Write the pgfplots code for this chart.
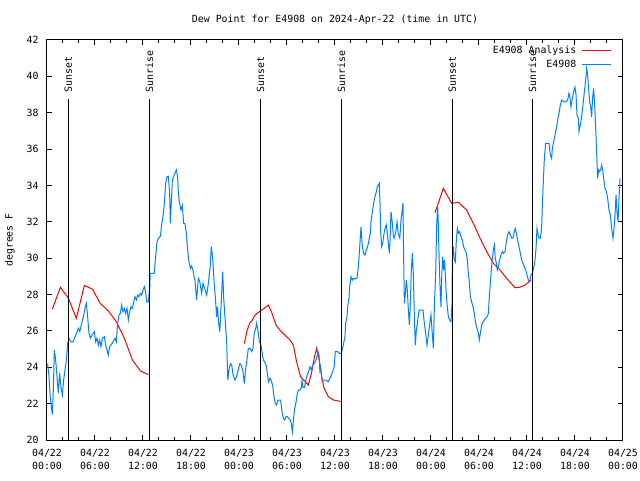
\documentclass[border=0pt]{standalone}
\usepackage{fontspec}
\setmainfont{DejaVu Sans Mono}
\usepackage{pgfplots}
\pgfplotsset{compat=1.18}
\definecolor{dpred}{RGB}{255,0,0}
\definecolor{dpblue}{RGB}{0,128,255}
\newcommand{\gf}{\fontsize{9.9}{13}\selectfont}
\begin{document}
\begin{tikzpicture}[font=\gf]
\path[use as bounding box] (-47pt,-40pt) rectangle (593pt,440pt);
\begin{axis}[
  at={(0pt,0pt)}, anchor=south west,
  width=576pt, height=400pt, scale only axis,
  xmin=0, xmax=72, ymin=20, ymax=42,
  xtick={0,6,...,72},
  minor x tick num=2,
  xticklabels={{04/22\\00:00},{04/22\\06:00},{04/22\\12:00},{04/22\\18:00},{04/23\\00:00},{04/23\\06:00},{04/23\\12:00},{04/23\\18:00},{04/24\\00:00},{04/24\\06:00},{04/24\\12:00},{04/24\\18:00},{04/25\\00:00}},
  xticklabel style={align=center, font=\gf, yshift=-6pt},
  ytick={20,22,...,42},
  yticklabel style={font=\gf, xshift=-5pt},
  /pgf/number format/assume math mode=true,
  tick align=inside,
  major tick length=5pt, minor tick length=3pt,
  every tick/.style={black, line width=1pt},
  axis line style={line width=1pt},
  title={Dew Point for E4908 on 2024-Apr-22 (time in UTC)},
  title style={at={(axis description cs:0.5,1)}, anchor=center, yshift=14pt, font=\gf},
  ylabel={degrees F},
  ylabel style={at={(axis description cs:0,0.5)}, anchor=center, yshift=37pt, font=\gf},
  unbounded coords=jump,
  legend style={draw=none, fill=none, at={(axis description cs:1,1)}, anchor=north east, xshift=-11pt, yshift=-4pt, font=\gf, row sep=2pt, column sep=4pt, inner sep=0pt, nodes={inner sep=1.5pt}},
  legend cell align=right,
  legend plot pos=right,
  legend image code/.code={\draw[#1] (0pt,0pt) -- (29pt,0pt);},
]
\addplot[dpred, line width=1pt] coordinates {
(0.67,27.2)(1.67,28.4)(2.67,27.8)(3.67,26.7)(4.67,28.5)(5.67,28.3)(6.67,27.5)(7.67,27.1)(8.67,26.5)(9.67,25.6)(10.67,24.4)(11.67,23.8)(12.67,23.6)
(13,nan)
(24.67,25.3)(25.0,26.0)(25.33,26.42)(25.67,26.6)(26.0,26.87)(26.67,27.1)(27.17,27.25)(27.67,27.42)(28.1,27.0)(28.63,26.32)(29.1,26.05)(29.75,25.77)(30.38,25.5)(30.8,25.22)(31.2,24.3)(31.7,23.48)(32.3,23.2)(32.67,23.02)(33.1,23.76)(33.4,24.5)(33.7,25.04)(34.04,24.4)(34.33,23.48)(34.63,22.85)(35.17,22.38)(35.8,22.2)(36.54,22.14)(36.7,22.1)
(37,nan)
(48.5,32.5)(49.54,33.84)(50.58,33.02)(51.42,33.07)(52.46,32.65)(53.29,31.92)(54.13,31.1)(54.96,30.36)(55.79,29.72)(56.63,29.35)(57.46,28.89)(58.5,28.38)(59.1,28.4)(59.75,28.52)(60.5,28.8)
};
\addlegendentry{E4908 Analysis}
\addplot[dpblue, line width=1pt] coordinates {
(0.08,24.2)(0.25,23.5)(0.4,22.4)(0.5,22.0)(0.67,21.4)(0.79,22.75)(0.92,24.95)(1.08,24.4)(1.25,23.5)(1.42,22.57)(1.58,23.67)(1.75,22.9)(1.92,22.47)(2.08,23.3)(2.25,23.85)(2.42,24.4)(2.58,25.3)(2.75,25.6)(3.0,25.4)(3.25,25.4)(3.5,25.68)(3.7,25.87)(3.92,26.14)(4.1,25.96)(4.33,26.42)(4.54,26.78)(4.75,27.24)(4.92,27.52)(5.08,26.78)(5.25,25.87)(5.42,25.6)(5.67,25.8)(5.92,25.96)(6.08,25.4)(6.25,25.6)(6.42,25.22)(6.58,25.5)(6.75,25.13)(6.92,25.6)(7.17,25.68)(7.33,25.22)(7.5,24.95)(7.67,24.67)(7.83,25.13)(8.0,25.22)(8.25,25.4)(8.5,25.6)(8.67,25.4)(8.83,26.42)(9.0,26.87)(9.17,26.96)(9.33,27.42)(9.5,27.05)(9.67,27.24)(9.83,26.96)(10.0,27.24)(10.17,26.6)(10.33,27.05)(10.5,27.33)(10.67,27.24)(10.83,27.6)(11.0,27.88)(11.17,27.7)(11.33,27.97)(11.5,27.88)(11.67,28.06)(11.83,27.97)(12.0,28.25)(12.17,28.43)(12.33,28.15)(12.46,27.6)(12.67,27.6)(12.75,27.97)(12.85,28.43)
(12.9,29.17)(13.4,29.17)(13.58,30.08)(13.75,30.9)(13.92,31.1)(14.17,31.2)(14.33,31.83)(14.5,32.28)(14.67,33.02)(14.83,34.12)(15.0,34.48)(15.17,34.5)(15.33,33.57)(15.42,31.92)(15.5,32.7)(15.67,34.3)(15.83,34.5)(16.0,34.67)(16.17,34.85)(16.33,34.48)(16.42,33.57)(16.58,33.0)(16.75,32.65)(16.92,32.9)(17.08,31.92)(17.25,31.9)(17.42,31.37)(17.58,30.45)(17.75,29.8)(17.92,29.43)(18.08,29.57)(18.25,29.34)(18.42,28.9)
(18.5,28.8)(18.7,27.7)(18.92,28.89)(19.1,28.7)(19.33,28.07)(19.5,28.62)(19.7,28.34)(19.96,27.97)(20.17,28.62)(20.4,29.53)(20.54,30.63)(20.7,30.08)(20.9,28.62)(21.04,27.88)(21.2,26.78)(21.3,27.33)(21.46,26.42)(21.6,25.96)(21.8,27.7)(21.96,29.26)(22.1,27.7)(22.3,26.4)(22.46,25.4)(22.6,23.3)(22.8,24.0)(22.96,24.2)(23.1,24.1)(23.25,23.6)(23.5,23.3)(23.7,23.48)(23.9,23.85)(24.1,24.2)(24.3,24.1)(24.5,23.76)(24.67,23.1)(24.8,23.8)(24.96,24.3)(25.17,25.04)(25.4,25.04)(25.6,24.86)(25.75,25.04)(25.9,25.87)(26.1,26.14)(26.2,26.42)(26.4,25.96)
(26.54,25.4)(26.7,25.3)(26.88,24.86)(27.04,24.4)(27.2,24.3)(27.4,24.1)(27.54,23.67)(27.7,23.2)(27.88,23.4)(28.0,23.3)(28.2,23.02)(28.38,22.38)(28.54,22.0)(28.7,21.93)(28.88,22.2)(29.04,22.2)(29.2,22.2)(29.38,21.56)(29.54,21.2)(29.7,21.1)(29.88,21.28)(30.04,21.28)(30.2,21.2)(30.4,21.1)(30.54,20.9)(30.67,20.45)(30.8,21.1)(30.96,21.74)(31.1,22.0)(31.29,22.57)(31.46,22.75)(31.6,22.75)(31.8,22.9)(31.88,23.3)(32.0,22.9)(32.2,22.9)(32.4,23.4)(32.54,23.57)(32.7,23.76)(32.88,24.03)(33.04,23.85)(33.2,24.1)(33.38,24.2)(33.54,24.3)(33.7,24.5)(33.88,24.86)(34.0,24.67)(34.1,23.85)(34.2,24.03)(34.38,23.3)(34.54,23.3)(34.9,23.3)(35.13,23.2)(35.38,23.4)(35.63,23.67)(35.9,24.03)(36.04,24.86)(36.3,24.86)(36.54,24.77)(36.75,24.77)
(36.9,24.95)(37.08,25.32)(37.25,25.7)(37.33,26.42)(37.5,26.78)(37.58,27.33)(37.75,27.8)(37.83,28.43)(38.0,28.98)(38.17,28.8)(38.33,28.9)(38.5,28.85)(38.75,28.9)(38.92,29.53)(39.04,30.27)(39.17,31.18)(39.25,31.7)(39.42,30.63)(39.58,30.27)(39.75,30.17)(39.92,30.45)(40.08,30.63)(40.25,31.0)(40.42,31.37)(40.5,32.0)(40.67,32.55)(40.83,33.02)(41.0,33.38)(41.17,33.66)(41.3,33.93)(41.42,34.02)(41.54,34.12)(41.63,33.02)(41.7,31.55)(41.83,30.63)(41.96,30.8)(42.1,31.28)(42.25,31.64)(42.4,31.83)(42.54,31.37)(42.67,30.8)(42.8,30.27)(42.9,31.18)(43.0,32.55)(43.17,31.92)(43.3,31.18)(43.4,31.1)(43.6,31.46)(43.75,32.0)(43.9,31.37)(44.1,31.1)(44.25,32.1)(44.38,32.55)(44.5,33.02)(44.58,30.08)(44.67,27.52)(44.8,28.07)(44.92,28.8)(45.04,28.25)(45.17,27.15)(45.3,26.32)(45.42,27.52)(45.54,29.35)(45.67,30.27)(45.8,29.0)(45.92,26.78)(46.04,25.22)(46.17,26.05)(46.3,26.42)(46.42,26.87)(46.54,27.15)(46.83,27.15)(47.0,27.15)(47.17,26.42)(47.33,25.87)(47.5,25.22)(47.67,25.77)(47.83,26.32)(48.0,26.87)(48.17,25.77)(48.3,25.04)(48.42,27.33)(48.6,29.35)(48.7,31.73)(48.83,32.92)(48.9,32.1)(49.0,30.27)(49.13,28.43)(49.25,27.33)(49.33,28.8)(49.46,30.08)(49.58,29.35)(49.7,29.9)(49.83,28.8)(49.9,28.07)(50.04,27.33)(50.17,26.78)(50.33,26.6)(50.5,26.5)(50.63,27.52)(50.67,29.9)(50.8,30.63)(50.92,29.9)(51.04,29.8)(51.17,31.0)(51.3,31.64)(51.42,31.37)(51.58,31.46)(51.75,31.18)(51.92,31.0)(52.08,30.63)
(52.25,30.45)(52.42,30.27)(52.54,29.9)(52.67,29.17)(52.8,28.62)(52.92,27.88)(53.08,27.6)(53.25,27.33)(53.42,26.96)(53.58,26.42)(53.75,26.14)(53.92,25.87)(54.04,25.5)(54.17,25.87)(54.33,26.32)(54.5,26.5)(54.67,26.6)(54.83,26.69)(55.0,26.78)(55.17,26.96)(55.29,27.88)(55.42,28.62)(55.54,29.35)(55.67,29.99)(55.8,30.45)(55.92,30.72)(56.04,29.99)(56.17,29.72)(56.29,29.35)(56.42,29.53)(56.58,29.9)(56.75,30.17)(56.92,30.36)(57.08,30.27)(57.25,30.36)(57.42,30.9)(57.58,31.28)(57.75,31.46)(57.92,31.28)(58.08,31.1)(58.25,31.1)(58.42,31.46)(58.54,31.64)(58.67,31.37)(58.83,31.0)(59.0,30.63)(59.17,30.27)(59.33,29.9)(59.5,29.72)(59.67,29.53)(59.83,29.35)(60.0,29.08)(60.17,28.8)(60.33,28.7)(60.5,29.08)(60.67,29.17)(60.83,29.45)(61.0,29.9)(61.13,30.54)(61.25,31.64)(61.38,31.28)(61.5,31.1)(61.67,31.1)(61.83,31.64)(61.92,32.92)(62.04,34.2)(62.17,35.49)(62.33,36.32)(62.5,36.32)(62.75,36.32)(62.92,35.67)(63.08,35.49)(63.17,36.04)(63.33,36.4)(63.5,36.77)(63.67,37.13)(63.83,37.6)(64.0,37.97)(64.17,38.43)(64.33,38.7)(64.58,38.6)(64.83,38.6)(65.08,38.7)(65.25,39.07)(65.38,38.8)(65.5,38.33)(65.67,38.8)(65.83,39.16)(66.0,39.4)(66.13,38.98)(66.25,37.87)(66.42,37.7)(66.5,36.96)(66.67,37.33)(66.83,37.78)(67.0,38.43)(67.17,39.16)(67.33,39.8)(67.46,40.44)(67.58,40.07)(67.7,39.35)(67.83,38.6)(67.96,38.33)(68.08,37.78)(68.2,38.8)(68.33,39.34)(68.46,38.43)(68.58,37.23)(68.7,35.86)(68.83,34.39)(68.96,34.85)(69.08,34.76)(69.2,34.85)(69.33,35.12)(69.46,34.85)(69.58,34.39)(69.75,33.84)(69.92,33.66)(70.08,33.3)(70.25,32.65)(70.42,32.37)(70.58,31.64)(70.75,31.1)(70.88,31.64)(71.0,32.37)(71.13,33.47)(71.25,32.55)(71.38,32.0)(71.5,33.3)(71.63,34.39)
};
\addlegendentry{E4908}
\addplot[black, line width=1pt, forget plot] coordinates {(2.66,20)(2.66,38.75)};
\addplot[black, line width=1pt, forget plot] coordinates {(12.79,20)(12.79,38.75)};
\addplot[black, line width=1pt, forget plot] coordinates {(26.7,20)(26.7,38.75)};
\addplot[black, line width=1pt, forget plot] coordinates {(36.79,20)(36.79,38.75)};
\addplot[black, line width=1pt, forget plot] coordinates {(50.67,20)(50.67,38.75)};
\addplot[black, line width=1pt, forget plot] coordinates {(60.67,20)(60.67,38.75)};
\node[rotate=90, anchor=west, inner sep=0pt, font=\gf] at (axis cs:2.66,39.1) {Sunset};
\node[rotate=90, anchor=west, inner sep=0pt, font=\gf] at (axis cs:12.79,39.1) {Sunrise};
\node[rotate=90, anchor=west, inner sep=0pt, font=\gf] at (axis cs:26.7,39.1) {Sunset};
\node[rotate=90, anchor=west, inner sep=0pt, font=\gf] at (axis cs:36.79,39.1) {Sunrise};
\node[rotate=90, anchor=west, inner sep=0pt, font=\gf] at (axis cs:50.67,39.1) {Sunset};
\node[rotate=90, anchor=west, inner sep=0pt, font=\gf] at (axis cs:60.67,39.1) {Sunrise};
\end{axis}
\end{tikzpicture}
\end{document}
